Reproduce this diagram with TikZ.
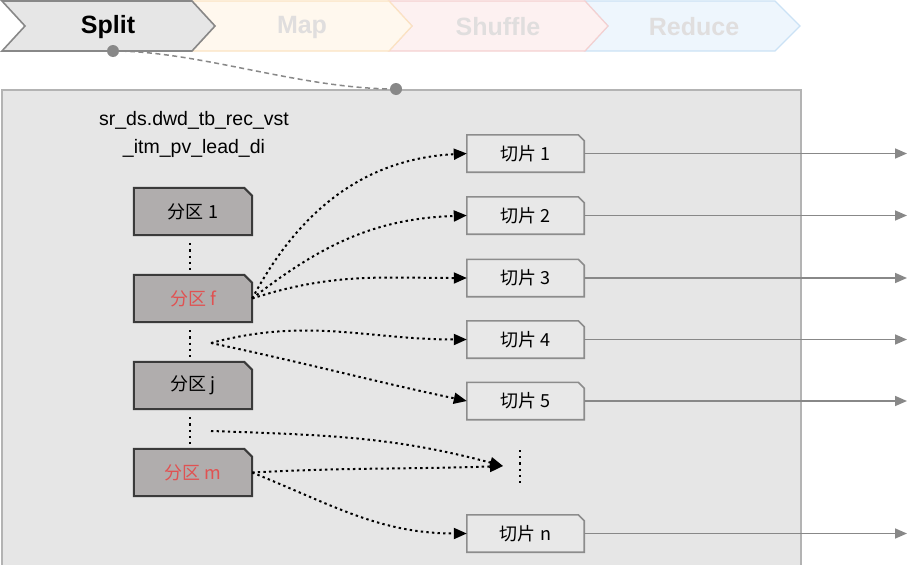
\documentclass[tikz,border=0pt]{standalone}
\usepackage{fontspec}
\setmainfont{Liberation Sans}
\newfontfamily\cjk{Noto Sans CJK SC}
\usetikzlibrary{arrows.meta}
\definecolor{bgbox}{HTML}{E6E6E6}
\definecolor{bgedge}{HTML}{B3B3B3}
\definecolor{partfill}{HTML}{B0ADAD}
\definecolor{partedge}{HTML}{3A3A3A}
\definecolor{slicefill}{HTML}{E8E8E8}
\definecolor{sliceedge}{HTML}{8C8C8C}
\definecolor{redtxt}{HTML}{E05252}
\definecolor{linkgray}{HTML}{888888}
\definecolor{mapfill}{HTML}{FFF8EE}
\definecolor{mapedge}{HTML}{FBE3C2}
\definecolor{shuffill}{HTML}{FDF1F1}
\definecolor{shufedge}{HTML}{F5D0D0}
\definecolor{redfill}{HTML}{EEF6FD}
\definecolor{rededge}{HTML}{CBE2F5}
\definecolor{fadetxt}{HTML}{E0DEDE}
\newcommand\chamf[3]{\draw[#3] (#1.south west) -- (#1.north west) -- ([xshift=-#2]#1.north east) -- ([yshift=-#2]#1.north east) -- (#1.south east) -- cycle;}
\begin{document}
\begin{tikzpicture}[x=1pt,y=-1pt,
  part/.style={minimum width=118pt,minimum height=47pt,inner sep=0pt,font=\cjk\fontsize{18}{20}\selectfont},
  partshape/.style={fill=partfill,draw=partedge,line width=2pt},
  slice/.style={minimum width=117pt,minimum height=37pt,inner sep=0pt,font=\cjk\fontsize{18}{20}\selectfont},
  sliceshape/.style={fill=slicefill,draw=sliceedge,line width=1.6pt},
  dotlink/.style={black,line width=2pt,dash pattern=on 2.4pt off 3.2pt,-{Triangle[length=13pt,width=11pt]}},
  dotline/.style={black,line width=2.2pt,dash pattern=on 2.2pt off 4pt},
  outlink/.style={linkgray,line width=1.6pt,-{Triangle[length=12pt,width=10pt]}},
  stagetxt/.style={font=\bfseries\fontsize{25}{28}\selectfont,inner sep=0pt}
]
\useasboundingbox (0,0) rectangle (908,565);
% stage chevrons
\draw[fill=redfill,draw=rededge,line width=1.2pt] (585,1) -- (775,1) -- (800,26) -- (775,51) -- (585,51) -- (608,26) -- cycle;
\draw[fill=shuffill,draw=shufedge,line width=1.2pt] (389,1) -- (585,1) -- (608,26) -- (585,51) -- (389,51) -- (412,26) -- cycle;
\draw[fill=mapfill,draw=mapedge,line width=1.2pt] (192,1) -- (389,1) -- (412,26) -- (389,51) -- (192,51) -- (215,26) -- cycle;
\draw[fill=bgbox,draw=linkgray,line width=1.6pt] (2,1) -- (192,1) -- (215,26) -- (192,51) -- (2,51) -- (25,26) -- cycle;
\node[stagetxt,text=black] (split) at (108,27) {Split};
\node[stagetxt,text=fadetxt] (map) at (302,27) {Map};
\node[stagetxt,text=fadetxt] (shuffle) at (498,27) {Shuffle};
\node[stagetxt,text=fadetxt] (reduce) at (694,27) {Reduce};
% main box
\draw[fill=bgbox,draw=bgedge,line width=1.2pt] (2,90) rectangle (801,570);
% connector from Split to box
\coordinate (s0) at (113,51);
\coordinate (s1) at (396,89);
\draw[linkgray,line width=1.5pt,dash pattern=on 5pt off 3.5pt] (s0) .. controls (200,51) and (300,89) .. (s1);
\fill[linkgray] (s0) circle (6pt);
\fill[linkgray] (s1) circle (6pt);
% table name
\node[font=\fontsize{19.5}{22}\selectfont,align=center,inner sep=0pt] (tname) at (194,134.5) {sr\_ds.dwd\_tb\_rec\_vst\\[6pt]\_itm\_pv\_lead\_di};
% partitions
\node[part] (p1) at (193,211.5) {};
\node[part] (pf) at (193,298.5) {};
\node[part] (pj) at (193,385.5) {};
\node[part] (pm) at (193,472.5) {};
\chamf{p1}{8pt}{partshape}
\chamf{pf}{8pt}{partshape}
\chamf{pj}{8pt}{partshape}
\chamf{pm}{8pt}{partshape}
\node[part] at (p1) {分区 1};
\node[part,text=redtxt] at (pf) {分区 f};
\node[part] at (pj) {分区 j};
\node[part,text=redtxt] at (pm) {分区 m};
% slices
\node[slice] (s1n) at (525.5,153.5) {};
\node[slice] (s2n) at (525.5,215.5) {};
\node[slice] (s3n) at (525.5,278) {};
\node[slice] (s4n) at (525.5,339.5) {};
\node[slice] (s5n) at (525.5,401) {};
\node[slice] (snn) at (525.5,533.5) {};
\chamf{s1n}{6pt}{sliceshape}
\chamf{s2n}{6pt}{sliceshape}
\chamf{s3n}{6pt}{sliceshape}
\chamf{s4n}{6pt}{sliceshape}
\chamf{s5n}{6pt}{sliceshape}
\chamf{snn}{6pt}{sliceshape}
\node[slice] at (s1n) {切片 1};
\node[slice] at (s2n) {切片 2};
\node[slice] at (s3n) {切片 3};
\node[slice] at (s4n) {切片 4};
\node[slice] at (s5n) {切片 5};
\node[slice] at (snn) {切片 n};
% vertical dotted lines between partitions
\draw[dotline] ([xshift=-3pt,yshift=-8pt]p1.south) -- ([xshift=-3pt,yshift=4pt]pf.north);
\draw[dotline] ([xshift=-3pt,yshift=-8pt]pf.south) -- ([xshift=-3pt,yshift=4pt]pj.north);
\draw[dotline] ([xshift=-3pt,yshift=-8pt]pj.south) -- ([xshift=-3pt,yshift=4pt]pm.north);
% ellipsis among slices
\coordinate (dtop) at (520,450);
\coordinate (dbot) at (520,484);
\coordinate (dtip) at (503,466);
\draw[dotline] (dtop) -- (dbot);
% coordinates for hidden partitions
\coordinate (c1) at (211,343);
\coordinate (c2) at (211,431);
% dotted arrows
\draw[dotlink] (pf.east) to[out=62,in=183] (s1n.west);
\draw[dotlink] (pf.east) to[out=38,in=182] (s2n.west);
\draw[dotlink] (pf.east) to[out=18,in=180] (s3n.west);
\draw[dotlink] (c1) to[out=15,in=180] (s4n.west);
\draw[dotlink] (c1) to[out=-12,in=168] (s5n.west);
\draw[dotlink] (c2) to[out=-2,in=165] (dtip);
\draw[dotlink] (pm.east) to[out=3,in=182] (dtip);
\draw[dotlink] (pm.east) to[out=-22,in=180] (snn.west);
% outgoing lines
\coordinate (o1) at (907,155);
\coordinate (o2) at (907,215.5);
\coordinate (o3) at (907,278);
\coordinate (o4) at (907,342);
\coordinate (o5) at (907,402);
\coordinate (on) at (907,534);
\draw[outlink] (s1n.east) -- (s1n.east -| o1);
\draw[outlink] (s2n.east) -- (s2n.east -| o2);
\draw[outlink] (s3n.east) -- (s3n.east -| o3);
\draw[outlink] (s4n.east) -- (s4n.east -| o4);
\draw[outlink] (s5n.east) -- (s5n.east -| o5);
\draw[outlink] (snn.east) -- (snn.east -| on);
\end{tikzpicture}
\end{document}
